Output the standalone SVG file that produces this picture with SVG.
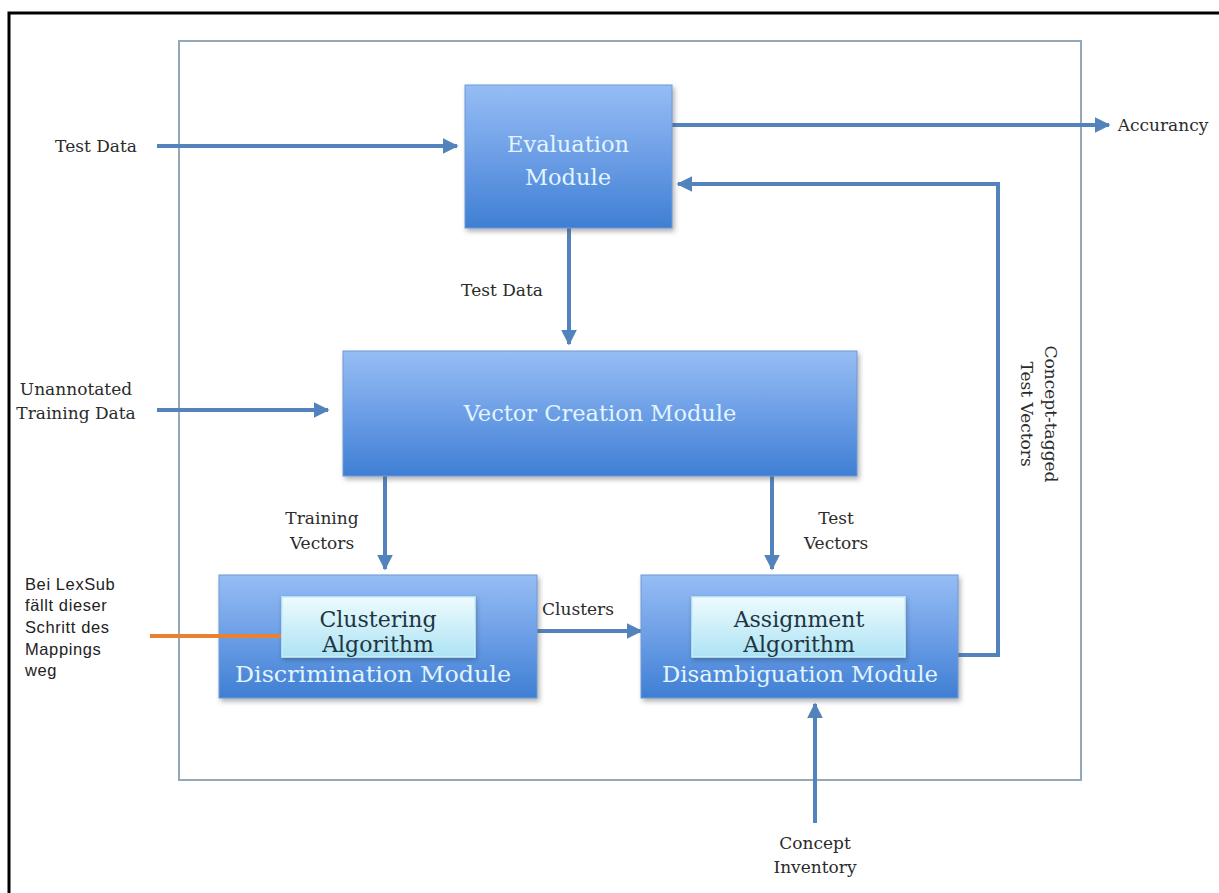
<svg xmlns="http://www.w3.org/2000/svg" width="1219" height="893" viewBox="0 0 1219 893">
<style>
.lbl{font-family:"DejaVu Serif","Liberation Serif",serif;font-size:17px;fill:#2b2b2b;text-anchor:middle}
.mod{font-family:"DejaVu Serif","Liberation Serif",serif;font-size:22.5px;fill:#e2f5ff;text-anchor:middle}
.alg{font-family:"DejaVu Serif","Liberation Serif",serif;font-size:22px;fill:#1e3642;text-anchor:middle}
.note{font-family:"Liberation Sans",Arial,sans-serif;font-size:16.5px;fill:#222;letter-spacing:0.6px}
.con{fill:none;stroke:#5383bd;stroke-width:4}
.box{fill:url(#gBlue);stroke:#6f9ad6;stroke-width:1;filter:url(#sh)}
.abox{fill:url(#gCyan);stroke:#c7eef8;stroke-width:1.5;filter:url(#sh2)}
</style>
<defs>
<linearGradient id="gBlue" x1="0" y1="0" x2="0" y2="1">
<stop offset="0" stop-color="#96bdf4"/>
<stop offset="0.5" stop-color="#6c9ee6"/>
<stop offset="1" stop-color="#3f7fd3"/>
</linearGradient>
<linearGradient id="gCyan" x1="0" y1="0" x2="0" y2="1">
<stop offset="0" stop-color="#eefbfe"/>
<stop offset="1" stop-color="#ade3f4"/>
</linearGradient>
<filter id="sh" x="-10%" y="-10%" width="125%" height="130%">
<feDropShadow dx="2" dy="3" stdDeviation="2.5" flood-color="#555" flood-opacity="0.45"/>
</filter>
<filter id="sh2" x="-10%" y="-10%" width="125%" height="130%">
<feDropShadow dx="1" dy="2" stdDeviation="2" flood-color="#234" flood-opacity="0.4"/>
</filter>
<marker id="ah" viewBox="0 0 10 10" refX="9" refY="5" markerWidth="4" markerHeight="4" orient="auto" markerUnits="strokeWidth">
<path d="M0,0 L10,5 L0,10 Z" fill="#5383bd"/>
</marker>
</defs>
<rect width="1219" height="893" fill="#ffffff"/>
<rect x="9" y="13" width="1225" height="895" fill="none" stroke="#000" stroke-width="3"/>
<rect id="frame" x="179" y="41" width="902" height="739" fill="none" stroke="#93a9ba" stroke-width="2"/>

<g id="connectors">
<line class="con" x1="157" y1="146" x2="457" y2="146" marker-end="url(#ah)"/>
<line class="con" x1="672" y1="125" x2="1109" y2="125" marker-end="url(#ah)"/>
<polyline class="con" points="958,655 998,655 998,184 678,184" marker-end="url(#ah)"/>
<line class="con" x1="569" y1="228" x2="569" y2="344" marker-end="url(#ah)"/>
<line class="con" x1="157" y1="410" x2="328" y2="410" marker-end="url(#ah)"/>
<line class="con" x1="385" y1="476" x2="385" y2="569" marker-end="url(#ah)"/>
<line class="con" x1="772" y1="476" x2="772" y2="569" marker-end="url(#ah)"/>
<line class="con" x1="537" y1="631" x2="641" y2="631" marker-end="url(#ah)"/>
<line class="con" x1="815" y1="823" x2="815" y2="704" marker-end="url(#ah)"/>
</g>

<g id="evaluation">
<rect class="box" x="465" y="85" width="207" height="143"/>
<text class="mod" x="568" y="152">Evaluation</text>
<text class="mod" x="568" y="185">Module</text>
</g>

<g id="vector-creation">
<rect class="box" x="343" y="351" width="514" height="125"/>
<text class="mod" x="600" y="421">Vector Creation Module</text>
</g>

<g id="discrimination">
<rect class="box" x="219" y="575" width="318" height="123"/>
<rect class="abox" x="282" y="597" width="193" height="60"/>
<text class="alg" x="378" y="627">Clustering</text>
<text class="alg" x="378" y="652">Algorithm</text>
<text class="mod" x="373" y="682" textLength="276" lengthAdjust="spacingAndGlyphs">Discrimination Module</text>
</g>

<g id="disambiguation">
<rect class="box" x="641" y="575" width="317" height="123"/>
<rect class="abox" x="692" y="597" width="213" height="60"/>
<text class="alg" x="799" y="627">Assignment</text>
<text class="alg" x="799" y="652">Algorithm</text>
<text class="mod" x="800" y="682" textLength="276" lengthAdjust="spacingAndGlyphs">Disambiguation Module</text>
</g>

<g id="note">
<line x1="150" y1="636" x2="281" y2="636" stroke="#e8822f" stroke-width="4"/>
<text class="note" x="25" y="590">Bei LexSub</text>
<text class="note" x="25" y="611">fällt dieser</text>
<text class="note" x="25" y="633">Schritt des</text>
<text class="note" x="25" y="655">Mappings</text>
<text class="note" x="25" y="676">weg</text>
</g>

<g id="labels">
<text class="lbl" x="96" y="152">Test Data</text>
<text class="lbl" x="1163" y="131">Accurancy</text>
<text class="lbl" x="502" y="296">Test Data</text>
<text class="lbl" x="76" y="395">Unannotated</text>
<text class="lbl" x="76" y="419">Training Data</text>
<text class="lbl" x="322" y="524">Training</text>
<text class="lbl" x="322" y="549">Vectors</text>
<text class="lbl" x="836" y="524">Test</text>
<text class="lbl" x="836" y="549">Vectors</text>
<text class="lbl" x="578" y="615">Clusters</text>
<text class="lbl" x="815" y="849">Concept</text>
<text class="lbl" x="815" y="873">Inventory</text>
<g transform="translate(1037,414) rotate(90)">
<text class="lbl" x="0" y="-8">Concept-tagged</text>
<text class="lbl" x="0" y="16">Test Vectors</text>
</g>
</g>
</svg>
